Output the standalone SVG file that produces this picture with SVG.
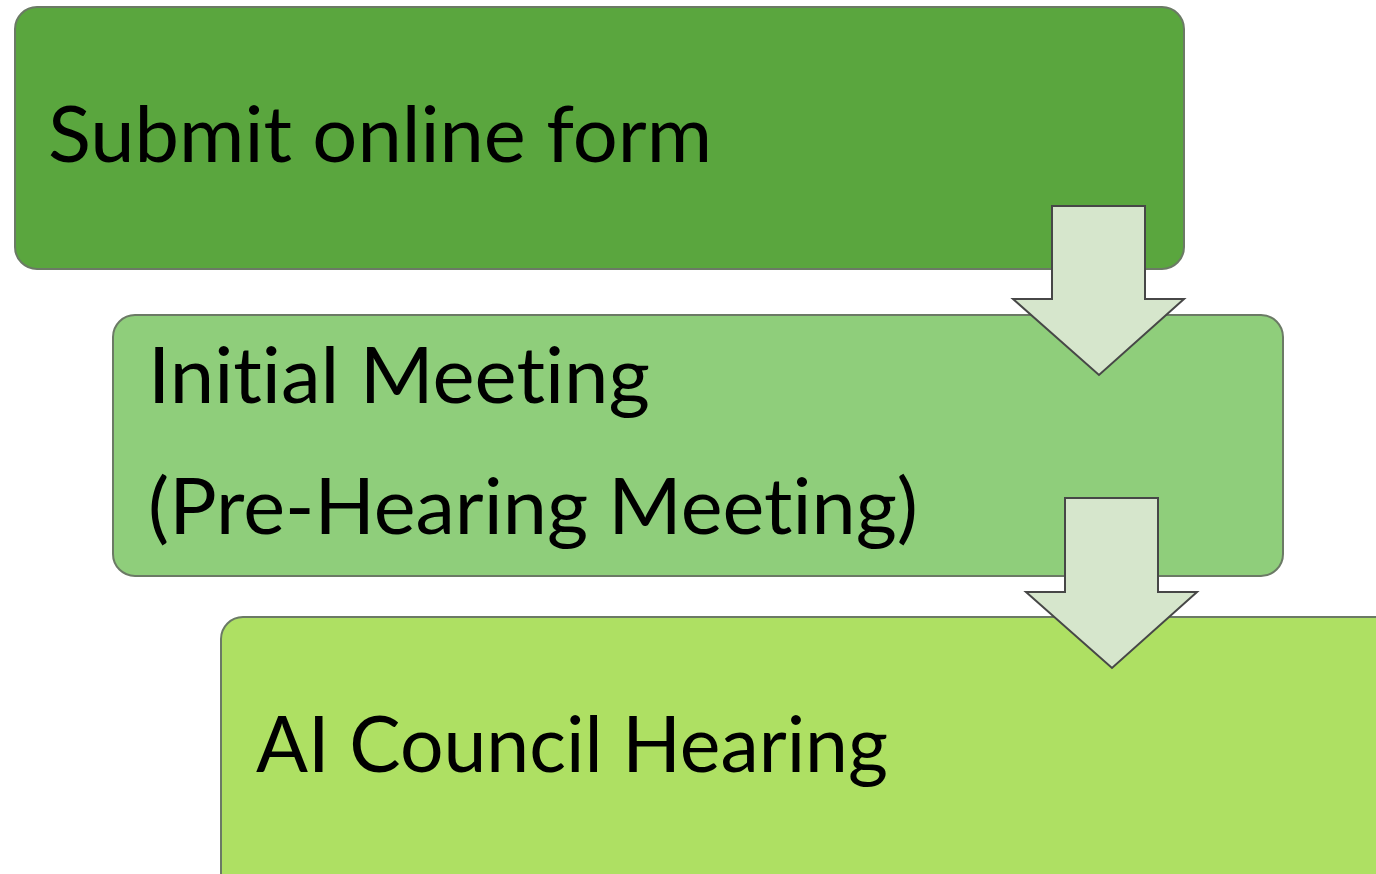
<svg xmlns="http://www.w3.org/2000/svg" width="1376" height="874" viewBox="0 0 1376 874">
<style>
.box{stroke:#6b7a65;stroke-width:2}
.arr{fill:#d6e6cc;stroke:#474747;stroke-width:2;stroke-linejoin:miter}
.t{font-family:Lato,"Open Sans","Liberation Sans",sans-serif;font-size:77px;fill:#000;font-variant-ligatures:none;font-feature-settings:"liga" 0,"clig" 0}
</style>
<rect width="1376" height="874" fill="#ffffff"/>
<g id="node1">
<rect class="box" x="15" y="7" width="1169" height="262" rx="22" fill="#5aa63e"/>
<text class="t" x="48" y="162" textLength="664" lengthAdjust="spacingAndGlyphs">Submit online form</text>
</g>
<g id="node2">
<rect class="box" x="113" y="315" width="1170" height="261" rx="22" fill="#8fce7b"/>
<text class="t" x="148" y="403" textLength="502" lengthAdjust="spacingAndGlyphs">Initial Meeting</text>
<text class="t" x="148" y="534" textLength="770" lengthAdjust="spacingAndGlyphs">(Pre-Hearing Meeting)</text>
</g>
<g id="node3">
<rect class="box" x="221" y="617" width="1200" height="300" rx="22" fill="#aee063"/>
<text class="t" x="256" y="772" textLength="632" lengthAdjust="spacingAndGlyphs">AI Council Hearing</text>
</g>
<g id="connectors">
<polygon class="arr" points="1052,206 1145,206 1145,299 1184,299 1099,375 1013,299 1052,299"/>
<polygon class="arr" points="1065,498 1158,498 1158,592 1197,592 1112,668 1026,592 1065,592"/>
</g>
</svg>
